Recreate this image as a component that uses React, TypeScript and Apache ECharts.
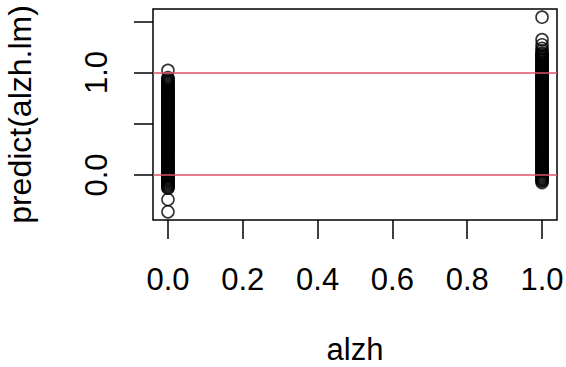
import React, { useEffect, useRef } from "react";
import * as echarts from "echarts";

// predicted values for alzh = 0
const predNo: number[] = [
  -0.36, -0.24, -0.13, -0.12, -0.11, -0.1, -0.09, -0.08, -0.07, -0.06, -0.05, -0.04, -0.03,
  -0.02, -0.01, 0.0, 0.01, 0.02, 0.03, 0.04, 0.05, 0.06, 0.07, 0.08, 0.09, 0.1, 0.11, 0.12,
  0.13, 0.14, 0.15, 0.16, 0.17, 0.18, 0.19, 0.2, 0.21, 0.22, 0.23, 0.24, 0.25, 0.26, 0.27, 0.28,
  0.29, 0.3, 0.31, 0.32, 0.33, 0.34, 0.35, 0.36, 0.37, 0.38, 0.39, 0.4, 0.41, 0.42, 0.43, 0.44,
  0.45, 0.46, 0.47, 0.48, 0.49, 0.5, 0.51, 0.52, 0.53, 0.54, 0.55, 0.56, 0.57, 0.58, 0.59, 0.6,
  0.61, 0.62, 0.63, 0.64, 0.65, 0.66, 0.67, 0.68, 0.69, 0.7, 0.71, 0.72, 0.73, 0.74, 0.75, 0.76,
  0.77, 0.78, 0.79, 0.8, 0.81, 0.82, 0.83, 0.84, 0.85, 0.86, 0.87, 0.88, 0.89, 0.9, 0.91, 0.92,
  0.935, 0.95, 1.02,
];
// predicted values for alzh = 1
const predYes: number[] = [
  1.54, 1.32, 1.27, 1.235, 1.21, 1.19, 1.18, 1.17, 1.16, 1.15, 1.14, 1.13, 1.12, 1.11, 1.1, 1.09,
  1.08, 1.07, 1.06, 1.05, 1.04, 1.03, 1.02, 1.01, 1.0, 0.99, 0.98, 0.97, 0.96, 0.95, 0.94, 0.93,
  0.92, 0.91, 0.9, 0.89, 0.88, 0.87, 0.86, 0.85, 0.84, 0.83, 0.82, 0.81, 0.8, 0.79, 0.78, 0.77,
  0.76, 0.75, 0.74, 0.73, 0.72, 0.71, 0.7, 0.69, 0.68, 0.67, 0.66, 0.65, 0.64, 0.63, 0.62, 0.61,
  0.6, 0.59, 0.58, 0.57, 0.56, 0.55, 0.54, 0.53, 0.52, 0.51, 0.5, 0.49, 0.48, 0.47, 0.46, 0.45,
  0.44, 0.43, 0.42, 0.41, 0.4, 0.39, 0.38, 0.37, 0.36, 0.35, 0.34, 0.33, 0.32, 0.31, 0.3, 0.29,
  0.28, 0.27, 0.26, 0.25, 0.24, 0.23, 0.22, 0.21, 0.2, 0.19, 0.18, 0.17, 0.16, 0.15, 0.14, 0.13,
  0.12, 0.11, 0.1, 0.09, 0.08, 0.07, 0.06, 0.05, 0.04, 0.03, 0.02, 0.01, 0.0, -0.01, -0.02,
  -0.03, -0.04, -0.05, -0.06, -0.075,
];
const groupX: number[] = [0, 1];
const refLines: number[] = [0, 1];
const xTicks: number[] = [0, 0.2, 0.4, 0.6, 0.8, 1.0];
const yTicks: number[] = [0, 0.5, 1.0, 1.5];
const yLabels: number[] = [0, 1.0];

const FONT = "'Liberation Sans', Arial, Helvetica, sans-serif";

export default function App() {
  const ref = useRef<HTMLDivElement>(null);
  useEffect(() => {
    if (!ref.current) return;
    const chart = echarts.init(ref.current, undefined, { renderer: "svg" });
    const pts: number[][] = [];
    predNo.forEach((v) => pts.push([groupX[0], v]));
    predYes.forEach((v) => pts.push([groupX[1], v]));
    chart.setOption({
      animation: false,
      backgroundColor: "#ffffff",
      grid: {
        left: 153,
        right: 9,
        top: 9,
        bottom: 147,
        containLabel: false,
        outerBoundsMode: "none",
        show: true,
        borderColor: "#000",
        borderWidth: 1.5,
        backgroundColor: "transparent",
      },
      xAxis: {
        type: "value",
        min: -0.04,
        max: 1.04,
        name: "alzh",
        nameLocation: "middle",
        nameGap: 118,
        nameTextStyle: { fontSize: 31, lineHeight: 22, color: "#000", fontFamily: FONT },
        axisLine: { show: false, onZero: false },
        splitLine: { show: false },
        axisTick: {
          show: true,
          length: 19,
          customValues: xTicks,
          lineStyle: { color: "#000", width: 1.5 },
        },
        axisLabel: {
          customValues: xTicks,
          margin: 44,
          fontSize: 31,
          color: "#000",
          fontFamily: FONT,
          formatter: (v: number) => v.toFixed(1),
        },
      },
      yAxis: {
        type: "value",
        min: -0.44,
        max: 1.62,
        name: "predict(alzh.lm)",
        nameLocation: "middle",
        nameGap: 117,
        nameTextStyle: { fontSize: 32, color: "#000", fontFamily: FONT },
        axisLine: { show: false, onZero: false },
        splitLine: { show: false },
        axisTick: {
          show: true,
          length: 19,
          customValues: yTicks,
          lineStyle: { color: "#000", width: 1.5 },
        },
        axisLabel: {
          customValues: yLabels,
          rotate: 90,
          margin: 41,
          fontSize: 31,
          color: "#000",
          fontFamily: FONT,
          formatter: (v: number) => v.toFixed(1),
        },
      },
      series: [
        {
          type: "scatter",
          data: pts,
          symbol: "circle",
          symbolSize: 12,
          itemStyle: { color: "transparent", borderColor: "#000", borderWidth: 1.6 },
          z: 2,
        },
        {
          type: "line",
          data: [],
          z: 3,
          markLine: {
            silent: true,
            symbol: ["none", "none"],
            label: { show: false },
            lineStyle: { color: "#DF536B", width: 1.6, type: "solid" },
            data: refLines.map((v) => ({ yAxis: v })),
          },
        },
      ],
    });
    return () => chart.dispose();
  }, []);
  return (
    <div
      ref={ref}
      style={{ position: "fixed", left: 0, top: 0, width: 566, height: 367, background: "#fff" }}
    />
  );
}
